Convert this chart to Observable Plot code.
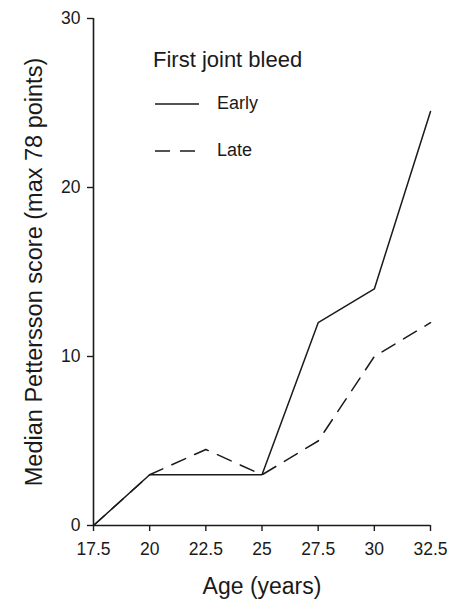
<!DOCTYPE html>
<html><head><meta charset="utf-8">
<script src="https://cdn.jsdelivr.net/npm/d3@7"></script>
<script src="https://cdn.jsdelivr.net/npm/@observablehq/plot@0.6"></script>
<style>
body{margin:0;background:#fff;font-family:"Liberation Sans",Arial,sans-serif;}
#wrap{position:relative;width:450px;height:604px;}
#legend{position:absolute;left:153px;top:47px;color:#1a1a1a;}
#legend .title{font-size:22px;line-height:26px;margin-bottom:7px;}
#legend .row{display:flex;align-items:center;height:47px;font-size:18px;}
#legend svg{margin-left:2px;margin-right:16px;}
</style></head><body>
<div id="wrap"><div id="chart"></div><div id="legend"></div></div>
<script>
const ages = [17.5, 20, 22.5, 25, 27.5, 30, 32.5];
const early = [0, 3, 3, 3, 12, 14, 24.5];
const late = [0, 3, 4.5, 3, 5, 10, 12];
const xTicks = [17.5, 20, 22.5, 25, 27.5, 30, 32.5];
const yTicks = [0, 10, 20, 30];
const seriesNames = ["Early", "Late"];
const legendTitle = "First joint bleed";
const xLabel = "Age (years)";
const yLabel = "Median Pettersson score (max 78 points)";

const ink = "#1a1a1a";
const dashes = {Early: null, Late: "15,10"};

const rows = [
  ...ages.map((a, i) => ({age: a, score: early[i], group: seriesNames[0]})),
  ...ages.map((a, i) => ({age: a, score: late[i], group: seriesNames[1]}))
];

const plot = Plot.plot({
  width: 450, height: 604,
  marginLeft: 93, marginRight: 20, marginTop: 18, marginBottom: 79,
  style: {fontFamily: '"Liberation Sans", Arial, sans-serif', fontSize: "17px", color: ink, background: "#fff", overflow: "visible"},
  x: {domain: [xTicks[0], xTicks[xTicks.length - 1]]},
  y: {domain: [yTicks[0], yTicks[yTicks.length - 1]]},
  marks: [
    Plot.ruleX([xTicks[0]], {stroke: ink, strokeWidth: 1.6}),
    Plot.ruleY([yTicks[0]], {stroke: ink, strokeWidth: 1.6}),
    Plot.axisX({ticks: xTicks, tickSize: 6, tickPadding: 11, strokeWidth: 1.4, tickFormat: d => String(d), label: null, fontSize: 17.5}),
    Plot.axisY({ticks: yTicks, tickSize: 6, tickPadding: 7, strokeWidth: 1.4, tickFormat: d => String(d), label: null, fontSize: 17.5}),
    Plot.axisX({ticks: [], label: xLabel, labelAnchor: "center", labelArrow: "none", labelOffset: 68, fontSize: 23}),
    Plot.axisY({ticks: [], label: yLabel, labelAnchor: "center", labelArrow: "none", labelOffset: 68, fontSize: 23.5}),
    ...seriesNames.map(name => Plot.line(rows.filter(r => r.group === name), {
      x: "age", y: "score", stroke: ink, strokeWidth: 1.5, strokeDasharray: dashes[name]
    }))
  ]
});
document.getElementById("chart").appendChild(plot);

const legend = document.getElementById("legend");
const t = document.createElement("div");
t.className = "title"; t.textContent = legendTitle;
legend.appendChild(t);
seriesNames.forEach(name => {
  const row = document.createElement("div");
  row.className = "row";
  const sv = d3.create("svg").attr("width", 46).attr("height", 4);
  sv.append("line").attr("x1", 0).attr("x2", 44).attr("y1", 2).attr("y2", 2)
    .attr("stroke", ink).attr("stroke-width", 1.5)
    .attr("stroke-dasharray", dashes[name]);
  row.appendChild(sv.node());
  const lab = document.createElement("span");
  lab.textContent = name;
  row.appendChild(lab);
  legend.appendChild(row);
});
</script>
</body></html>
